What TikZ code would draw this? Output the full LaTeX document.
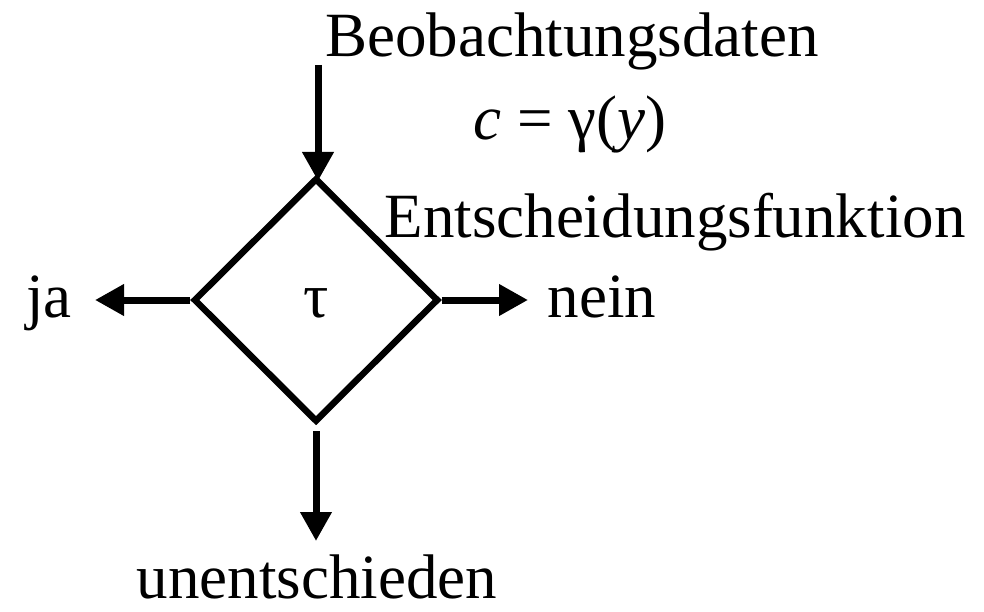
\documentclass[tikz,border=0pt]{standalone}
\usepackage{fontspec}
\setmainfont{Liberation Serif}
\usetikzlibrary{arrows.meta,positioning,shapes.geometric}

\begin{document}
\begin{tikzpicture}[x=1pt,y=-1pt,
    lbl/.style={inner sep=0pt,anchor=base,font=\fontsize{63}{70}\selectfont},
    dia/.style={draw,diamond,line width=6.5pt,minimum width=245pt,minimum height=244pt,inner sep=0pt,
      text height=34pt,text depth=0pt,font=\fontsize{63}{70}\selectfont},
    a/.style={-{Triangle[length=29pt,width=30pt]},line width=7pt}]
    \useasboundingbox (0,0) rectangle (984,612);
    \node[dia] (tau) at (316,300) {τ};
    \node[lbl] (obs) at (572,57) {Beobachtungsdaten};
    \node[lbl] (gam) at (570,140) {\textit{c} = γ(\textit{y})};
    \node[lbl] (ent) at (675,237) {Entscheidungsfunktion};
    \node[lbl] (ja) at (49,317) {ja};
    \node[lbl] (nein) at (602,317) {nein};
    \node[lbl] (un) at (317,598) {unentschieden};
    \coordinate (in) at (318,65);
    \coordinate (jt) at (95,300);
    \coordinate (nt) at (528,300);
    \coordinate (ut) at (316,541);
    \draw[a] (in) -- (318,181);
    \draw[a] (tau.west) -- (jt);
    \draw[a] (tau.east) -- (nt);
    \draw[a] ([yshift=-6pt]tau.south) -- (ut);
  \end{tikzpicture}
\end{document}
